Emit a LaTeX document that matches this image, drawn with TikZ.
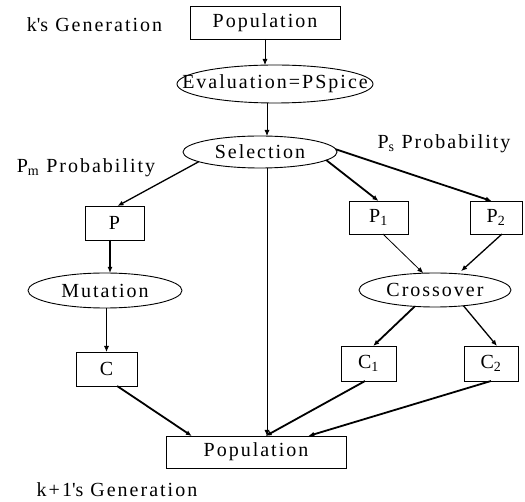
\documentclass[tikz,border=0pt]{standalone}
\usepackage{fontspec}
\setmainfont[LetterSpace=10]{Liberation Serif}
\usetikzlibrary{arrows.meta,shapes.geometric}
\begin{document}
\begin{tikzpicture}[x=1pt,y=1pt,
  every node/.style={font=\fontsize{20}{24}\selectfont, inner sep=0pt, outer sep=0pt},
  box/.style={draw, line width=0.9pt, rectangle},
  oval/.style={draw, ellipse, line width=0.9pt},
  tip/.style={-{Latex[length=6pt,width=5pt]}},
  aone/.style={tip, line width=0.8pt},
  atwo/.style={tip, line width=1.3pt},
  athree/.style={tip, line width=1.8pt}]
\useasboundingbox (0,0) rectangle (525,-502);
% nodes
\node[box, minimum width=150, minimum height=33] (top) at (265,-22.5) {Population};
\node[oval, minimum width=196, minimum height=38] (ev) at (275,-84) {\makebox[0pt]{Evaluation=PSpice}};
\node[oval, minimum width=154, minimum height=32] (sel) at (260,-152) {\makebox[0pt]{Selection}};
\node[box, minimum width=59, minimum height=34] (P) at (114.5,-223) {P};
\node[box, minimum width=59, minimum height=33] (P1) at (378.5,-217.5) {P\textsubscript{1}};
\node[box, minimum width=52, minimum height=33] (P2) at (496,-217.5) {P\textsubscript{2}};
\node[oval, minimum width=154, minimum height=35] (mut) at (105,-290.5) {\makebox[0pt]{Mutation}};
\node[oval, minimum width=152, minimum height=34] (cr) at (435,-290) {\makebox[0pt]{Crossover}};
\node[box, minimum width=61, minimum height=34] (C) at (106.5,-369) {C};
\node[box, minimum width=55, minimum height=35] (C1) at (368.5,-363.5) {C\textsubscript{1}};
\node[box, minimum width=54, minimum height=35] (C2) at (491,-363.5) {C\textsubscript{2}};
\node[box, minimum width=180, minimum height=32] (pop) at (256,-452) {Population};
% labels
\node (kg) at (94.5,-25) {k\textquotesingle s Generation};
\node (pm) at (86,-168) {P\textsubscript{m} Probability};
\node (ps) at (444,-144) {P\textsubscript{s} Probability};
\node (k1) at (117,-490) {k+1\textquotesingle s Generation};
% helper coordinates
\coordinate (vx) at (267,0);
\coordinate (mx) at (110,0);
% connectors
\draw[aone] (top.south) -- (top.south |- ev.north);
\draw[aone] (vx |- ev.south) -- (vx |- sel.north);
\draw[atwo] (sel.189) -- (P.80);
\draw[athree] (P.south -| mx) -- (mx |- mut.north);
\draw[aone] (C.north |- mut.south) -- (C.north);
\draw[aone] (vx |- sel.south) -- (vx |- pop.north);
\draw[athree] (sel.353) -- (P1.north);
\draw[athree] (sel.2) -- (P2.105);
\draw[aone] (P1.-75) -- (cr.125);
\draw[atwo, shorten >=4pt] (P2.-70) -- (cr.35);
\draw[athree] (cr.219) -- (C1.75);
\draw[atwo] (cr.331) -- (C2.71);
\draw[athree] (C.-58) -- (pop.166);
\draw[athree] (C1.259) -- (pop.59);
\draw[athree] (C2.south) -- (pop.17);
\end{tikzpicture}
\end{document}
